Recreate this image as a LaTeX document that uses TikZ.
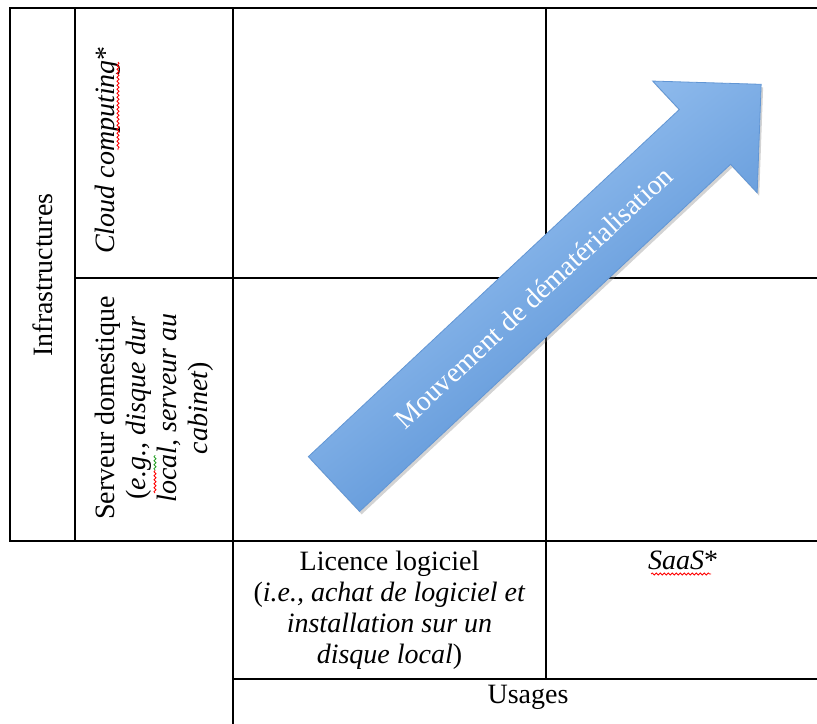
\documentclass[tikz,border=0pt]{standalone}
\usepackage{fontspec}
\setmainfont{Liberation Serif}
\usepackage{tikz}
\usetikzlibrary{positioning}
\usetikzlibrary{decorations.pathmorphing,shadows}
\definecolor{arrowlight}{RGB}{170,207,248}
\definecolor{arrowdark}{RGB}{70,132,206}
\definecolor{arrowedge}{RGB}{98,150,212}
\definecolor{spellgreen}{RGB}{40,160,40}
\tikzstyle{grid} = [line width=0.8pt, line cap=rect]
\tikzstyle{cell} = [inner sep=0pt, align=center, font=\fontsize{14}{15.5}\selectfont]
\tikzstyle{squig} = [decorate, decoration={snake, amplitude=0.5pt, segment length=2pt}, line width=0.4pt]
\def\ital(#1){\textit{#1}}

\begin{document}
\begin{tikzpicture}[x=0.5pt,y=-0.5pt]
      \useasboundingbox (0,0) rectangle (817,723);
      %%%%%%%%%%%%%%%%%%%%%%%%%%%%%%%%%%%%%%%
      \coordinate (v1) at (10,8);
      \coordinate (v2) at (75,8);
      \coordinate (v3) at (233,8);
      \coordinate (v4) at (546,8);
      \coordinate (v5) at (817,8);
      \coordinate (v6) at (75,278);
      \coordinate (v7) at (817,278);
      \coordinate (v8) at (10,541);
      \coordinate (v9) at (75,541);
      \coordinate (v10) at (817,541);
      \coordinate (v11) at (233,679);
      \coordinate (v12) at (546,679);
      \coordinate (v13) at (817,679);
      \coordinate (v14) at (233,723);
      \draw[grid] (v1)--(v5);
      \draw[grid] (v6)--(v7);
      \draw[grid] (v8)--(v10);
      \draw[grid] (v11)--(v13);
      \draw[grid] (v1)--(v8);
      \draw[grid] (v2)--(v9);
      \draw[grid] (v3)--(v14);
      \draw[grid] (v4)--(v12);
      %%%%%%%%%%%%%%%%%%%%%%%%%%%%%%%%%%%%%%%
      \node[cell, rotate=90] (infra) at (42.5,275) {Infrastructures};
      \node[cell, rotate=90, anchor=north] (cloud) at (95,150) {\ital(Cloud computing)*};
      \node[cell, rotate=90, anchor=north] (serveur) at (95,408) {Serveur domestique\\(\ital(e.g., disque dur)\\\ital(local, serveur au)\\\ital(cabinet))};
      \node[cell, anchor=north] (licence) at (389.5,551) {Licence logiciel\\(\ital(i.e., achat de logiciel et)\\\ital(installation sur un)\\\ital(disque local))};
      \node[cell, anchor=north] (saas) at (683,551) {\ital(SaaS)*};
      \node[cell, anchor=base] (usages) at (528,703) {Usages};
      \draw[squig, red] (118,62)--(118,150);
      \draw[squig, red] (155,493)--(155,470);
      \draw[squig, spellgreen] (155,470)--(155,455);
      \draw[squig, red] (651,574)--(711,574);
      %%%%%%%%%%%%%%%%%%%%%%%%%%%%%%%%%%%%%%%
      \begin{scope}[shift={(334,484)}, rotate=43.1]
      \path[draw=arrowedge, line width=0.4pt, top color=arrowlight, bottom color=arrowdark, shading angle=38,
            drop shadow={opacity=0.35, shadow xshift=1pt, shadow yshift=-1.5pt}]
            (0,-37.5) -- (508,-37.5) -- (508,-76.5) -- (585,0) -- (508,76.5) -- (508,37.5) -- (0,37.5) -- cycle;
      \node[cell, text=white, transform shape] (mvt) at (273,0) {Mouvement de dématérialisation};
      \end{scope}
\end{tikzpicture}
\end{document}
